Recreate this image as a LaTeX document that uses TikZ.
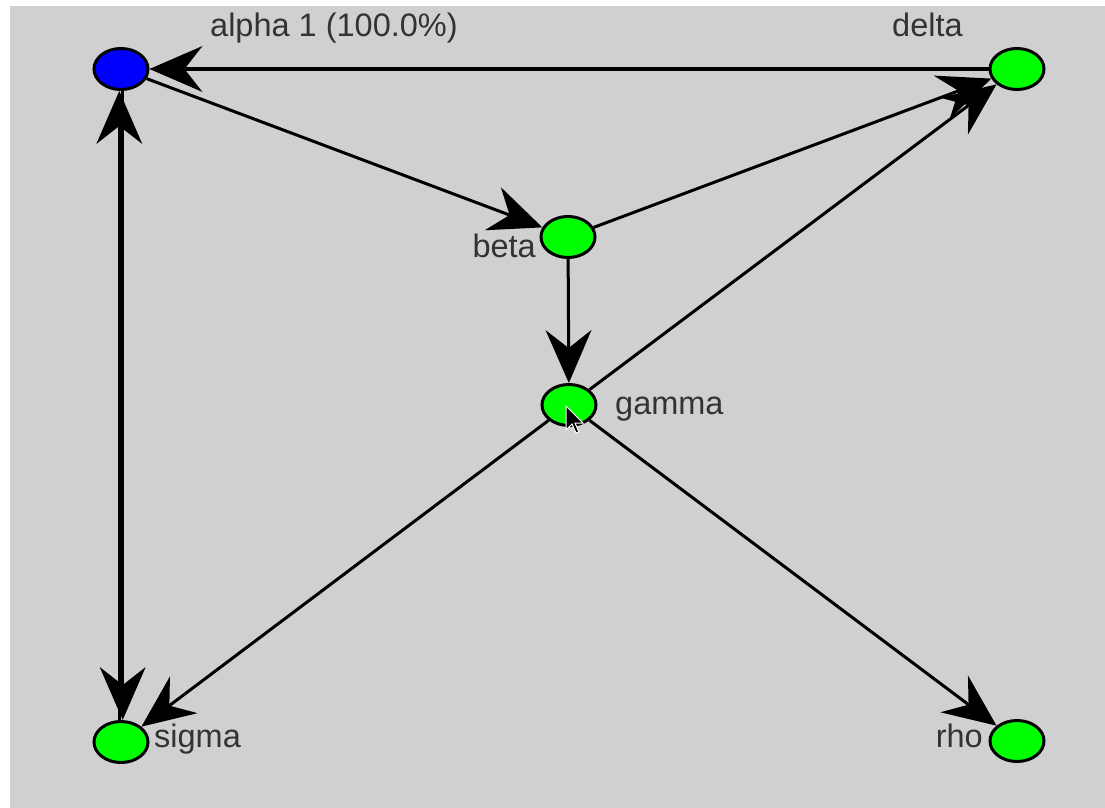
\documentclass[tikz,border=0pt]{standalone}
\usepackage{fontspec}
\setmainfont{Liberation Sans}
\usetikzlibrary{shapes.geometric,arrows.meta}
\definecolor{bg}{RGB}{208,208,208}
\definecolor{txt}{RGB}{51,51,51}
\definecolor{nblue}{RGB}{0,0,255}
\definecolor{ngreen}{RGB}{0,255,0}
\tikzset{
  vertex/.style={ellipse,draw=black,line width=3pt,inner sep=0pt,minimum width=54pt,minimum height=41pt},
  lbl/.style={inner sep=0pt,text=txt,font=\fontsize{32.5}{38}\selectfont},
  edge/.style={line width=3pt,-{Stealth[length=53pt 0 0,width=46pt 0 0,inset=18pt 0,line width=0pt]}},
}
\begin{document}
\begin{tikzpicture}[x=1pt,y=-1pt]
\useasboundingbox (0,0) rectangle (1105,808);
\fill[white] (0,0) rectangle (1105,808);
\fill[bg] (10,6) rectangle (1105,808);
% nodes
\node[vertex,fill=nblue]  (alpha) at (121,69) {};
\node[vertex,fill=ngreen] (delta) at (1017,69) {};
\node[vertex,fill=ngreen] (beta)  at (568,237) {};
\node[vertex,fill=ngreen] (gamma) at (569,405) {};
\node[vertex,fill=ngreen] (sigma) at (121,742) {};
\node[vertex,fill=ngreen] (rho)   at (1017,741) {};
% labels
\node[lbl,anchor=base west] (lalpha) at (210,37) {alpha 1 (100.0\%)};
\node[lbl,anchor=base west] (ldelta) at (892,37) {delta};
\node[lbl,anchor=base east] (lbeta)  at (536,257) {beta};
\node[lbl,anchor=base west] (lgamma) at (615,414) {gamma};
\node[lbl,anchor=base west] (lsigma) at (154,747) {sigma};
\node[lbl,anchor=base east] (lrho)   at (983,747) {rho};
% edges
\draw[edge] (delta) -- (alpha);
\draw[edge] (alpha) -- (beta);
\draw[edge] (beta) -- (delta);
\draw[edge] (gamma) -- (delta);
\draw[edge] (beta) -- (gamma);
\draw[edge] (gamma) -- (sigma);
\draw[edge] (gamma) -- (rho);
\draw[edge] ([xshift=1.7pt]alpha.south) -- ([xshift=1.7pt]sigma.north);
\draw[edge] ([xshift=-1.7pt]sigma.north) -- ([xshift=-1.7pt]alpha.south);
% mouse cursor
\draw[fill=black,draw=white,line width=1pt,line join=miter]
  (566,406) -- ++(0,24) -- ++(6,-6) -- ++(4,9) -- ++(3,-1) -- ++(-4,-9) -- ++(8,0) -- cycle;
\end{tikzpicture}
\end{document}
